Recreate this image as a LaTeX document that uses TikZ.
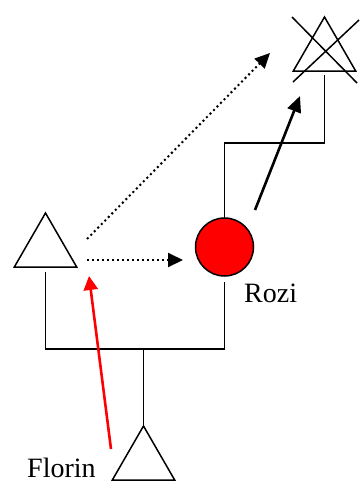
\documentclass[tikz,border=0pt]{standalone}
\usepackage{fontspec}
\setmainfont{Liberation Serif}
\usetikzlibrary{arrows.meta,shapes.geometric,calc}
\definecolor{ink}{HTML}{000000}
\definecolor{rred}{HTML}{FF0000}
\tikzset{
  tri/.style    ={draw=ink, regular polygon, regular polygon sides=3, minimum size=72pt,
                  inner sep=0pt, outer sep=0pt, line width=1.5pt},
  person/.style ={circle, draw=ink, fill=rred, minimum size=58pt, inner sep=0pt,
                  outer sep=0pt, line width=1.5pt},
  lbl/.style    ={font=\fontsize{28}{30}\selectfont, text=ink, inner sep=0pt},
  tie/.style    ={line width=1.5pt, draw=ink},
  dots/.style   ={-{Triangle[length=15pt,width=14pt]}, line width=2pt,
                  dash pattern=on 2pt off 3pt, draw=ink},
  push/.style   ={-{Triangle[length=16pt,width=14pt]}, line width=2.6pt, draw=ink},
  pull/.style   ={-{Triangle[length=14pt,width=14pt]}, line width=2.6pt, draw=rred},
}
\begin{document}
\begin{tikzpicture}[x=1pt,y=-1pt]
  \useasboundingbox (0,0) rectangle (359,482);
  \node[tri](ltri) at (45.5,249){};
  \node[tri](xtri) at (324.5,53){};
  \node[tri](btri) at (143.5,462){};
  \node[person](rozi) at (224.5,247){};
  \node[lbl, anchor=base west](rozilbl) at (244,302){Rozi};
  \node[lbl, anchor=base west](florin) at (27,477){Florin};
  \coordinate (bus) at (143.5,349);
  \coordinate (turn) at (224.5,143);
  \draw[tie, shorten <=5pt, shorten >=6pt](ltri.south) |- (bus) -| (rozi.south);
  \draw[tie](bus) -- (btri.north);
  \draw[tie, shorten >=4pt](rozi.north) -- (turn) -| (xtri.south);
  \draw[tie](292,17) -- (357,83);
  \draw[tie](359,20) -- (293,82);
  \coordinate (d1) at (87,260);
  \coordinate (d1e) at (183,260);
  \coordinate (d2) at (87,239);
  \coordinate (d2e) at (270,53);
  \coordinate (p1) at (255,210);
  \coordinate (p1e) at (300,96);
  \coordinate (f1) at (111,449);
  \coordinate (f1e) at (89,276);
  \draw[dots](d1) -- (d1e);
  \draw[dots](d2) -- (d2e);
  \draw[push](p1) -- (p1e);
  \draw[pull](f1) -- (f1e);
\end{tikzpicture}
\end{document}
